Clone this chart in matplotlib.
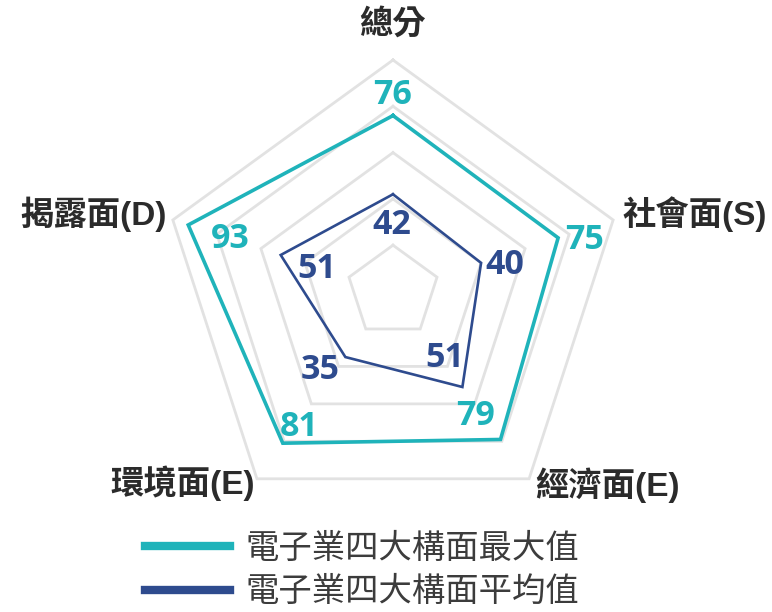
import numpy as np
import matplotlib
matplotlib.use("Agg")
import matplotlib.pyplot as plt
from matplotlib.lines import Line2D

plt.rcParams['font.family'] = ['Noto Sans CJK TC', 'DejaVu Sans']

# axes of the radar, clockwise from the top
categories = ['總分', '社會面(S)', '經濟面(E)', '環境面(E)', '揭露面(D)']
max_values = [76, 75, 79, 81, 93]
avg_values = [42, 40, 51, 35, 51]
series_names = ['電子業四大構面最大值', '電子業四大構面平均值']
ring_levels = [20, 40, 60, 80, 100]

teal = '#1fb3ba'
navy = '#2e4b8e'
grid_color = '#e2e2e2'

angles = np.deg2rad(90 - 72 * np.arange(len(categories)))


def to_xy(values):
    values = np.asarray(values, dtype=float)
    return values * np.cos(angles), values * np.sin(angles)


def closed(a):
    return np.append(a, a[0])


W, H = 772, 612
fig = plt.figure(figsize=(W / 100, H / 100), dpi=100)
ax = fig.add_axes([0, 0, 1, 1])

# center of the web sits at (393, 291.5) px, radius 100 -> 231.5 px
scale = 2.315
cx, cy = 393, 291.5
ax.set_xlim(-cx / scale, (W - cx) / scale)
ax.set_ylim(-(H - cy) / scale, cy / scale)
ax.set_aspect('equal')
ax.axis('off')

# pentagon rings
for lvl in ring_levels:
    gx, gy = to_xy([lvl] * len(categories))
    ax.plot(closed(gx), closed(gy), color=grid_color, lw=2.0, zorder=1,
            solid_joinstyle='miter')

# series
mx, my = to_xy(max_values)
ax.plot(closed(mx), closed(my), color=teal, lw=2.6, zorder=3, solid_joinstyle='miter')
vx, vy = to_xy(avg_values)
ax.plot(closed(vx), closed(vy), color=navy, lw=1.9, zorder=3, solid_joinstyle='miter')

# value labels, offsets in points from each vertex
max_offsets = [(0, 15), (19, -1.5), (-18, 17), (12, 12), (30, -10)]
avg_offsets = [(-1, -22), (17, -1.5), (-13, 21), (-18, -9), (26, -10)]
num_font = dict(family=['Open Sans', 'DejaVu Sans'], fontsize=24.5, fontweight='bold')
for x, y, v, off in zip(mx, my, max_values, max_offsets):
    ax.annotate(str(v), (x, y), xytext=off, textcoords='offset points',
                ha='center', va='center', color=teal, zorder=4, **num_font)
for x, y, v, off in zip(vx, vy, avg_values, avg_offsets):
    ax.annotate(str(v), (x, y), xytext=off, textcoords='offset points',
                ha='center', va='center', color=navy, zorder=4, **num_font)

# category names around the outer ring
ox, oy = to_xy([100] * len(categories))
cat_pos = [((0, 25.5), 'center'), ((7, 4), 'left'), ((4.3, -4.5), 'left'),
           ((-1.4, -3), 'right'), ((-4.2, 4), 'right')]
for x, y, name, (off, ha) in zip(ox, oy, categories, cat_pos):
    ax.annotate(name, (x, y), xytext=off, textcoords='offset points',
                ha=ha, va='center', fontsize=24, fontweight='bold', color='#2b2b2b',
                family=['Liberation Sans', 'Noto Sans CJK TC'])

handles = [Line2D([], [], color=teal, lw=6),
           Line2D([], [], color=navy, lw=6)]
fig.legend(handles, series_names, loc='upper left',
           bbox_to_anchor=(145 / W, 1 - 531 / H), frameon=False,
           fontsize=24, handlelength=2.55, handletextpad=0.45,
           labelspacing=0.25, borderpad=0, borderaxespad=0,
           labelcolor='#3c3c3c')

fig.savefig('out.png', dpi=100)
